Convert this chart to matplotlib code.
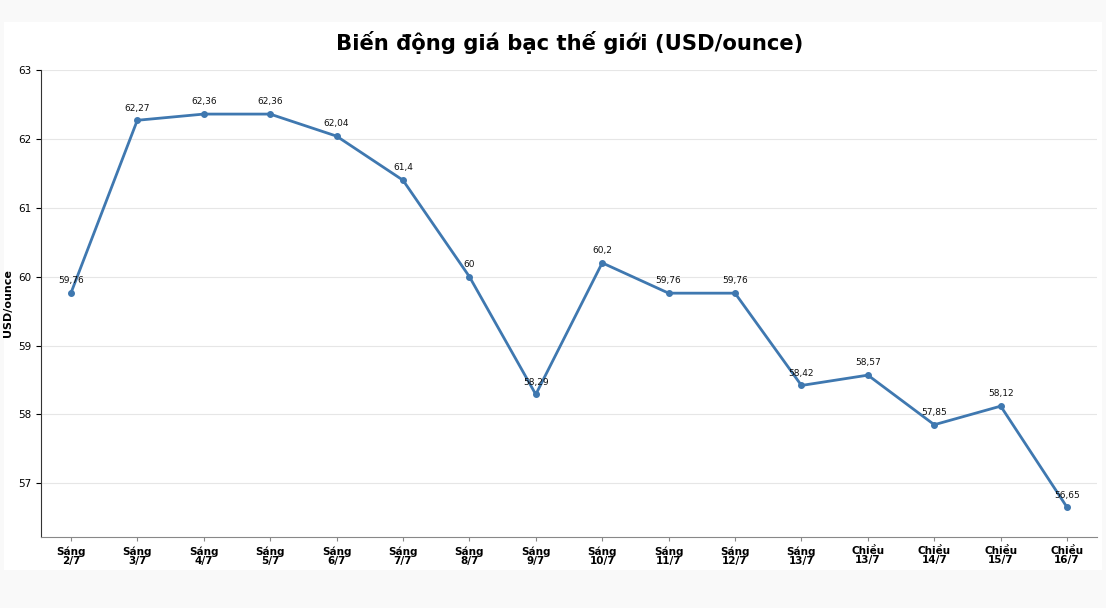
import numpy as np
import matplotlib.pyplot as plt
from matplotlib.patches import FancyBboxPatch

labels = ['Sáng\n2/7', 'Sáng\n3/7', 'Sáng\n4/7', 'Sáng\n5/7', 'Sáng\n6/7', 'Sáng\n7/7',
          'Sáng\n8/7', 'Sáng\n9/7', 'Sáng\n10/7', 'Sáng\n11/7', 'Sáng\n12/7', 'Sáng\n13/7',
          'Chiều\n13/7', 'Chiều\n14/7', 'Chiều\n15/7', 'Chiều\n16/7']
prices = [59.76, 62.27, 62.36, 62.36, 62.04, 61.4, 60, 58.29, 60.2, 59.76, 59.76,
          58.42, 58.57, 57.85, 58.12, 56.65]


def fmt(v):
  s = ('%.2f' % v).rstrip('0').rstrip('.')
  return s.replace('.', ',')


fig = plt.figure(figsize=(11.06, 6.08), dpi=100, facecolor='#f9f9f9')
fig.patches.append(FancyBboxPatch((0.004, 38 / 608), 0.992, (570 - 22) / 608,
                                  boxstyle='square,pad=0',
                                  transform=fig.transFigure, facecolor='white',
                                  edgecolor='none', zorder=-10))

ax = fig.add_axes([41 / 1106, 1 - 537 / 608, (1097 - 41) / 1106, (537 - 70) / 608])
ax.set_facecolor('white')

x = np.arange(len(prices))
ax.plot(x, prices, color='#3f78b0', linewidth=2, marker='o', markersize=4)
for xi, yi in zip(x, prices):
  ax.annotate(fmt(yi), (xi, yi), textcoords='offset points', xytext=(0, 7),
              ha='center', fontsize=6.5, color='#111111')

ax.set_xlim(-0.45, 15.45)
ax.set_ylim(56.22, 63)
ax.set_yticks([57, 58, 59, 60, 61, 62, 63])
ax.set_xticks(x)
ax.set_xticklabels(labels, fontsize=7.5, fontweight='bold', linespacing=0.9)
ax.tick_params(axis='y', labelsize=7.5)
ax.tick_params(axis='x', length=3, color='#888888')
ax.set_ylabel('USD/ounce', fontsize=8, fontweight='bold')
ax.yaxis.set_label_coords(-28 / 1056, 0.5)
ax.grid(axis='y', color='#e6e6e6', linewidth=0.8)
ax.set_axisbelow(True)
ax.spines['top'].set_visible(False)
ax.spines['right'].set_visible(False)
ax.spines['bottom'].set_color('#888888')
ax.spines['left'].set_color('#333333')

fig.text(0.515, 1 - 42 / 608, 'Biến động giá bạc thế giới (USD/ounce)',
         ha='center', va='center', fontsize=15.2, fontweight='bold')

fig.savefig('out.png', dpi=100, facecolor=fig.get_facecolor())
